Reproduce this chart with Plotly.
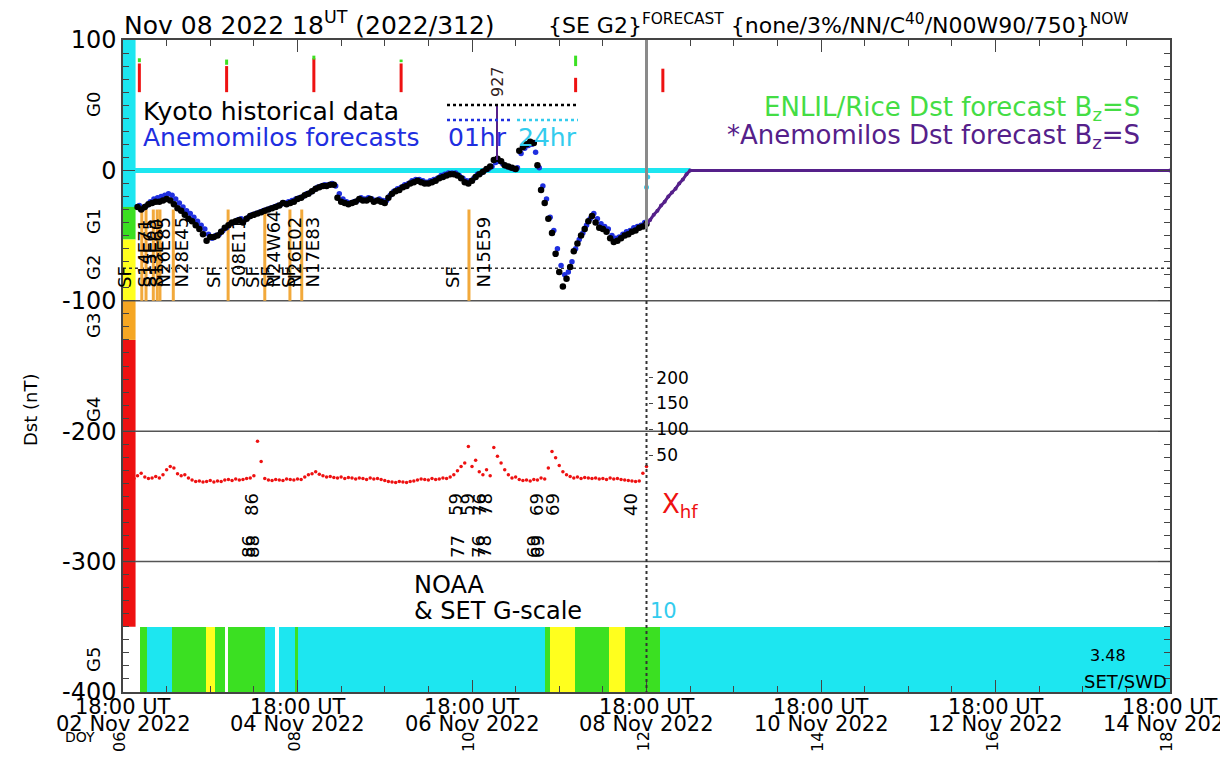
import pandas as pd
import plotly.graph_objects as go

FONT = "DejaVu Sans, Liberation Sans, Arial, sans-serif"

T0 = "2022-11-02 18:00"
T_END = "2022-11-14 18:00"
NOW = "2022-11-08 18:00"

# Kyoto Dst (nT), hourly from 02 Nov 22:00 UT
kyoto_start = "2022-11-02 22:00"
kyoto_dst = [-28, -30, -28, -26, -25, -24, -24, -23, -22, -23,
             -26, -29, -31, -34, -37, -39, -42, -45, -49, -54,
             -51, -51, -50, -47, -44, -42, -40, -39, -38, -40,
             -37, -35, -34, -33, -32, -31, -30, -29, -28, -27,
             -25, -26, -25, -24, -22, -21, -19, -18, -16, -14,
             -13, -12, -12, -11, -11, -21, -24, -25, -26, -25,
             -24, -22, -23, -23, -22, -24, -23, -24, -25, -21,
             -18, -16, -15, -13, -12, -10, -9, -8, -9, -10,
             -10, -9, -8, -6, -5, -4, -3, -3, -4, -6,
             -9, -10, -8, -5, -3, -1, 1, 3, 8, 9,
             7, 4, 3, 2, 1, 15, 18, 20, 22, 21,
             4, -15, -25, -37, -48, -64, -78, -89, -83, -74,
             -62, -56, -50, -45, -39, -35, -40, -44, -45, -47,
             -52, -55, -54, -52, -50, -49, -47, -46, -44, -43,
             -41]

# Anemomilos 01hr forecast (nT), hourly
anem01_start = "2022-11-02 22:30"
anem01_dst = [-27, -29, -27, -24, -22, -21, -20, -19, -18, -19,
              -22, -25, -28, -31, -33, -36, -39, -42, -45, -49,
              -52, -50, -49, -46, -44, -41, -40, -38, -37, -38,
              -36, -34, -33, -32, -31, -30, -29, -28, -27, -26,
              -25, -24, -23, -22, -21, -20, -18, -17, -15, -13,
              -12, -11, -11, -10, -12, -18, -22, -24, -25, -24,
              -23, -21, -22, -21, -22, -23, -22, -23, -23, -19,
              -16, -14, -13, -11, -10, -8, -7, -7, -8, -9,
              -8, -7, -6, -4, -3, -2, -2, -2, -4, -6,
              -8, -8, -6, -3, -2, 0, 1, 3, 6, 7,
              5, 3, 2, 1, 2, 13, 17, 19, 20, 14,
              2, -12, -22, -36, -46, -60, -73, -80, -78, -70,
              -60, -53, -48, -42, -37, -33, -37, -41, -43, -45,
              -50, -52, -51, -49, -47, -46, -44, -43, -42, -40]

# Anemomilos 24hr forecast
anem24_time = ["2022-11-08 18:00", "2022-11-08 18:20"]
anem24_dst = [-13, -5]

# Anemomilos Dst forecast Bz=S
fc_time = ["2022-11-08 18:00", "2022-11-08 19:00", "2022-11-08 20:00", "2022-11-08 21:00",
           "2022-11-08 22:00", "2022-11-08 23:00", "2022-11-09 00:00", "2022-11-09 01:00",
           "2022-11-09 02:00", "2022-11-09 03:00", "2022-11-09 04:00", "2022-11-09 05:00",
           "2022-11-09 06:00", "2022-11-14 18:00"]
fc_dst = [-41, -38, -34, -31, -27, -24, -20, -17, -14, -10, -7, -3, 0, 0]

# X-ray hf index, hourly from 02 Nov 20:00 UT
xhf_start = "2022-11-02 20:00"
xhf = [4, 5, 10, 15, 8, 5, 6, 9, 6, 12,
       22, 28, 25, 14, 10, 12, 6, 2, -1, 0,
       -2, -1, 1, -2, 0, -1, 2, 3, 1, 4,
       2, 3, 5, 6, 10, 77, 38, 5, 2, 1,
       3, 2, 1, 4, 3, 2, 4, 3, 8, 12,
       14, 18, 13, 10, 8, 9, 7, 6, 8, 5,
       7, 6, 4, 6, 5, 3, 6, 4, 5, 3,
       1, -1, -2, -3, -1, -2, -3, -1, 0, 2,
       4, 3, 2, 5, 3, 4, 6, 5, 8, 12,
       20, 28, 35, 67, 28, 40, 18, 12, 22, 10,
       65, 48, 35, 22, 12, 6, 8, 3, 1, 2,
       0, 3, 2, 6, 4, 25, 57, 45, 30, 18,
       12, 9, 6, 8, 5, 7, 6, 5, 6, 4,
       5, 3, 6, 4, 5, 3, 2, 1, 0, -1,
       0, 15, 28]

# flare markers
flare_time = ["2022-11-02 23:10", "2022-11-03 00:20", "2022-11-03 02:20", "2022-11-03 03:25",
              "2022-11-03 04:10", "2022-11-03 07:50", "2022-11-03 22:55", "2022-11-04 09:00",
              "2022-11-04 15:55", "2022-11-04 19:10", "2022-11-06 17:10"]
flare_top, flare_bot = -30, -100

# daily markers near the top
mark_time = ["2022-11-02 22:30", "2022-11-03 22:30", "2022-11-04 22:30",
             "2022-11-05 22:30", "2022-11-07 22:30", "2022-11-08 22:30"]
mark_red_top = [82, 80, 86, 82, 71, 78]
mark_red_bot = [60, 60, 60, 60, 60, 60]
mark_green_top = [86, 85, 88, 85, 88, None]
mark_green_bot = [83, 81, 85, 83, 80, None]

# NOAA & SET G-scale band
band_edges = ["2022-11-02 18:00", "2022-11-02 22:40", "2022-11-03 00:35", "2022-11-03 07:30",
              "2022-11-03 16:50", "2022-11-03 19:20", "2022-11-03 22:00", "2022-11-03 23:00",
              "2022-11-04 09:00", "2022-11-04 11:50", "2022-11-04 12:55", "2022-11-04 17:20",
              "2022-11-04 18:00", "2022-11-07 14:00", "2022-11-07 15:30", "2022-11-07 22:25",
              "2022-11-08 07:40", "2022-11-08 12:00", "2022-11-08 21:40", "2022-11-14 18:00"]
band_level = ["none", "G1", "G0", "G1", "G2", "G1", "none", "G1", "G0", "none",
              "G0", "G1", "G0", "G1", "G2", "G1", "G2", "G1", "G0"]

# G-scale strip along the Dst axis
g_names = ["G0", "G1", "G2", "G3", "G4"]
g_upper = [100, -28, -53, -100, -130]
g_lower = [-28, -53, -100, -130, -350]

dst_ticks = [100, 0, -100, -200, -300, -400]
dst_tick_text = ["100", "0", "-100", "-200", "-300", "-400"]
tick_dates = ["2022-11-02 18:00", "2022-11-04 18:00", "2022-11-06 18:00", "2022-11-08 18:00",
              "2022-11-10 18:00", "2022-11-12 18:00", "2022-11-14 18:00"]
doy_labels = ["06", "08", "10", "12", "14", "16", "18"]

CYAN = "#1de6f0"
GREEN = "#3be022"
YELLOW = "#ffff1e"
ORANGE = "#f5a623"
RED = "#ee1111"
BLUE = "#1f2fe0"
PURPLE = "#55208a"
LIGHT = "#33ccee"
level_color = {"none": "white", "G0": CYAN, "G1": GREEN, "G2": YELLOW,
               "G3": ORANGE, "G4": RED}


# helpers that turn a window pixel into axis / paper coordinates (text placement only)
def at(px):
    return pd.Timestamp(T0) + pd.Timedelta(days=12 * (px - 123) / 1047)


def dst(py):
    return 100 - (py - 40) * 500 / 652


def pxp(px):
    return (px - 123) / 1047


def pyp(py):
    return (692 - py) / 652


kyoto_t = pd.date_range(kyoto_start, periods=len(kyoto_dst), freq="h")
anem01_t = pd.date_range(anem01_start, periods=len(anem01_dst), freq="h")
xhf_t = pd.date_range(xhf_start, periods=len(xhf), freq="h")

fig = go.Figure()

# G-scale band at the bottom
edges = pd.to_datetime(band_edges)
starts, ends = edges[:-1], edges[1:]
fig.add_trace(go.Bar(x=starts + (ends - starts) / 2, y=[50] * len(band_level), base=-400,
                     width=[(e - s).total_seconds() * 1000 for s, e in zip(starts, ends)],
                     marker=dict(color=[level_color[l] for l in band_level], line_width=0),
                     hoverinfo="skip"))

# flare markers
fx, fy = [], []
for t in flare_time:
    fx += [t, t, None]
    fy += [flare_top, flare_bot, None]
fig.add_trace(go.Scatter(x=fx, y=fy, mode="lines", line=dict(color="#f2a93b", width=3)))

# daily markers
rx, ry, gx, gy = [], [], [], []
for t, a, b, c, d in zip(mark_time, mark_red_bot, mark_red_top, mark_green_bot, mark_green_top):
    rx += [t, t, None]
    ry += [a, b, None]
    if c is not None:
        gx += [t, t, None]
        gy += [c, d, None]
fig.add_trace(go.Scatter(x=rx, y=ry, mode="lines", line=dict(color=RED, width=3)))
fig.add_trace(go.Scatter(x=gx, y=gy, mode="lines", line=dict(color=GREEN, width=3)))

# forecasts and data
fig.add_trace(go.Scatter(x=anem01_t, y=anem01_dst, mode="markers",
                         marker=dict(color=BLUE, size=5.5)))
fig.add_trace(go.Scatter(x=kyoto_t, y=kyoto_dst, mode="markers",
                         marker=dict(color="black", size=6.5)))
fig.add_trace(go.Scatter(x=anem24_time, y=anem24_dst, mode="markers",
                         marker=dict(color=LIGHT, size=5)))
fig.add_trace(go.Scatter(x=fc_time, y=fc_dst, mode="lines+markers",
                         line=dict(color=PURPLE, width=3), marker=dict(color=PURPLE, size=4)))
fig.add_trace(go.Scatter(x=[at(497), at(497)], y=[8, 50], mode="lines",
                         line=dict(color=PURPLE, width=2)))

# X-ray hf on its own scale
fig.add_trace(go.Scatter(x=xhf_t, y=xhf, yaxis="y2", mode="markers",
                         marker=dict(color=RED, size=3.5)))

shapes = []
for name, up, lo in zip(g_names, g_upper, g_lower):
    shapes.append(dict(type="rect", xref="paper", yref="y", x0=0, x1=0.012, y0=lo, y1=up,
                       fillcolor=level_color[name], line_width=0, layer="below"))
for yv in [-100, -200, -300]:
    shapes.append(dict(type="line", xref="paper", yref="y", x0=0, x1=1, y0=yv, y1=yv,
                       line=dict(color="#555", width=1.5), layer="below"))
shapes.append(dict(type="line", xref="paper", yref="y", x0=0, x1=1, y0=-75, y1=-75,
                   line=dict(color="#333", width=1.5, dash="dot"), layer="below"))
shapes.append(dict(type="line", xref="x", yref="y", x0=T0, x1="2022-11-09 06:00", y0=0, y1=0,
                   line=dict(color=CYAN, width=5), layer="below"))
shapes.append(dict(type="line", xref="x", yref="y", x0=NOW, x1=NOW, y0=100, y1=-45,
                   line=dict(color="#8a8a8a", width=3)))
shapes.append(dict(type="line", xref="x", yref="y", x0=NOW, x1=NOW, y0=-45, y1=-400,
                   line=dict(color="#333", width=2, dash="dot")))
# legend samples
shapes.append(dict(type="line", xref="x", yref="y", x0=at(447), x1=at(578), y0=dst(105), y1=dst(105),
                   line=dict(color="black", width=2.5, dash="dot")))
shapes.append(dict(type="line", xref="x", yref="y", x0=at(447), x1=at(513), y0=dst(120), y1=dst(120),
                   line=dict(color=BLUE, width=2.5, dash="dot")))
shapes.append(dict(type="line", xref="x", yref="y", x0=at(517), x1=at(578), y0=dst(120), y1=dst(120),
                   line=dict(color=LIGHT, width=2.5, dash="dot")))

ann = []


def text(x, y, s, size, color="black", xanchor="left", yanchor="middle", angle=0,
         xref="x", yref="y", xshift=0):
    ann.append(dict(x=x, y=y, text=s, xref=xref, yref=yref, showarrow=False,
                    font=dict(size=size, color=color, family=FONT),
                    xanchor=xanchor, yanchor=yanchor, textangle=angle, xshift=xshift))


# titles
text(pxp(122), pyp(24), "Nov 08 2022 18<sup>UT</sup> (2022/312)", 25, xref="paper", yref="paper")
text(pxp(546), pyp(24), "{SE G2}<sup>FORECAST</sup> {none/3%/NN/C<sup>40</sup>/N00W90/750}<sup>NOW</sup>",
     22, xref="paper", yref="paper")

# legend text
text(at(141), dst(111), "Kyoto historical data", 25)
text(at(141), dst(137), "Anemomilos forecasts", 25, BLUE)
text(at(446), dst(137), "01hr", 25, BLUE)
text(at(516), dst(137), "24hr", 25, LIGHT)
text(at(1142), dst(108), "ENLIL/Rice Dst forecast B<sub>z</sub>=S", 26, "#44dd44", xanchor="right")
text(at(1142), dst(136), "*Anemomilos Dst forecast B<sub>z</sub>=S", 26, PURPLE, xanchor="right")
text(at(497), dst(82), "927", 16, "#332222", xanchor="center", angle=-90)

# flare labels
for s, px in [("SF", 124), ("S14E71", 144), ("S15E65", 149), ("S13E60", 156), ("N26E85", 163),
              ("N28E45", 181), ("SF", 213), ("S08E11", 238), ("SF", 252), ("SF", 267),
              ("N24W64", 273), ("SF", 288), ("N26E02", 294), ("N17E83", 312), ("SF", 452),
              ("N15E59", 483)]:
    text(at(px), dst(290), s, 18, xanchor="center", yanchor="bottom", angle=-90)

# X-ray labels
for s, px in [("86", 251), ("59", 455), ("59", 467), ("76", 479), ("78", 485),
              ("69", 536), ("69", 552), ("40", 630)]:
    text(at(px), dst(505), s, 18, xanchor="center", angle=-90)
for s, px in [("86", 248), ("88", 252), ("77", 457), ("76", 478), ("78", 484),
              ("69", 533), ("69", 537)]:
    text(at(px), dst(547), s, 18, xanchor="center", angle=-90)
text(at(660), dst(505), "X<sub>hf</sub>", 26, RED)

text(at(412), dst(585), "NOAA", 24)
text(at(412), dst(611), "& SET G-scale", 24)
text(at(648), dst(611), "10", 21, LIGHT)
text(at(1108), dst(655), "3.48", 16, xanchor="center")
text(at(1169), dst(681), "SET/SWD", 18, xanchor="right")

# G labels and axis title
for s, py in [("G0", 105), ("G1", 222), ("G2", 268), ("G3", 326), ("G4", 410), ("G5", 660)]:
    text(pxp(93), dst(py), s, 18, xanchor="center", angle=-90, xref="paper")
text(pxp(30), pyp(410), "Dst (nT)", 18, xanchor="center", angle=-90, xref="paper", yref="paper")

# date labels and DOY
for t, d in zip(tick_dates, doy_labels):
    ts = pd.Timestamp(t)
    text(t, pyp(707), "18:00 UT", 21, xanchor="center", yref="paper")
    text(t, pyp(724), ts.strftime("%d %b %Y"), 21, xanchor="center", yref="paper")
    text(t, pyp(742), d, 16, xanchor="center", angle=-90, yref="paper", xshift=-4)
text(pxp(80), pyp(737), "DOY", 14, xanchor="center", xref="paper", yref="paper")

fig.update_layout(
    width=1220, height=767,
    margin=dict(l=115, r=58, t=32, b=83),
    plot_bgcolor="white", paper_bgcolor="white",
    showlegend=False,
    font=dict(family=FONT, color="black"),
    bargap=0,
    shapes=shapes,
    annotations=ann,
    xaxis=dict(type="date", range=[T0, T_END], showgrid=False, zeroline=False,
               showline=True, linecolor="#444", linewidth=1.5, mirror="ticks",
               ticks="inside", ticklen=12, tickcolor="#444", tickvals=tick_dates,
               showticklabels=False,
               minor=dict(ticks="inside", ticklen=6, dtick=12 * 3600 * 1000, tick0=T0,
                          tickcolor="#444")),
    yaxis=dict(range=[-400, 100], tickvals=dst_ticks, ticktext=dst_tick_text,
               ticks="inside", ticklen=12, tickcolor="#444", showline=True, mirror="ticks",
               linecolor="#444", linewidth=1.5, showgrid=False, zeroline=False,
               tickfont=dict(size=24),
               minor=dict(ticks="inside", ticklen=6, dtick=10, tick0=0, tickcolor="#444")),
    yaxis2=dict(overlaying="y", anchor="free", position=0.5014, side="right",
                range=[-408, 853], tickvals=[50, 100, 150, 200], ticks="outside", ticklen=4,
                showgrid=False, zeroline=False, showline=False, tickfont=dict(size=17)),
)

fig.write_html("out.html")
